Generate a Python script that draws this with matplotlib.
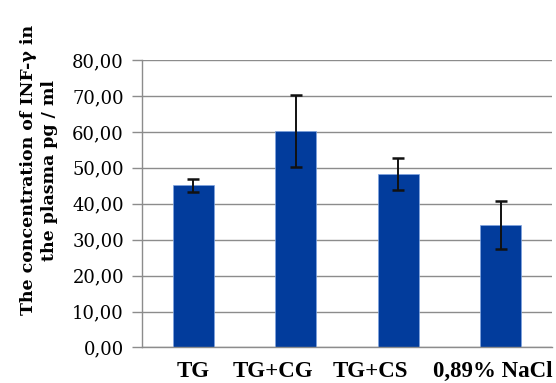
import matplotlib.pyplot as plt

groups = ['TG', 'TG+CG', 'TG+CS', '0,89% NaCl']
means = [45.1, 60.3, 48.2, 34.0]
errs = [1.8, 10.0, 4.5, 6.7]
yticks = [0, 10, 20, 30, 40, 50, 60, 70, 80]

fig = plt.figure(figsize=(5.56, 3.83), dpi=100)
ax = fig.add_axes([0.2554, 0.0927, 0.7376, 0.7506])

x = list(range(len(groups)))
ax.bar(x, means, width=0.4, color='#023C9C', edgecolor='#7FA4E0', linewidth=0.5, zorder=2)
ax.errorbar(x, means, yerr=errs, fmt='none', ecolor='#111111', elinewidth=1.4,
            capsize=4.5, capthick=1.8, zorder=3)

ax.set_xlim(-0.5, 3.5)
ax.set_ylim(0, 80)
ax.set_yticks(yticks)
ax.set_yticklabels(['%d,00' % v for v in yticks], fontfamily='DejaVu Serif', fontsize=13)
ax.yaxis.grid(True, color='#8C8C8C', linewidth=1.0, zorder=0)

# category names sit in one row under the axis, not quite centred on the bars
ax.set_xticks(x)
ax.set_xticklabels([])
ax.tick_params(axis='x', length=0)
label_x = [0.0, 0.78, 1.73, 2.34]
label_ha = ['center', 'center', 'center', 'left']
for lx, ha, name in zip(label_x, label_ha, groups):
    ax.text(lx, -0.083, name, transform=ax.get_xaxis_transform(), ha=ha, va='center',
            fontfamily='Liberation Serif', fontweight='bold', fontsize=16.5)

ax.tick_params(axis='y', length=7, width=1, color='#8C8C8C', pad=6)

for s in ['top', 'right']:
    ax.spines[s].set_visible(False)
for s in ['left', 'bottom']:
    ax.spines[s].set_color('#8C8C8C')
    ax.spines[s].set_linewidth(1.0)

ax.set_ylabel('The concentration of INF-\u03b3 in\nthe plasma pg / ml',
              fontfamily='DejaVu Serif', fontweight='bold', fontsize=12.5,
              linespacing=1.3)
ax.yaxis.set_label_coords(-0.205, 0.617)

fig.savefig('out.png', dpi=100)
